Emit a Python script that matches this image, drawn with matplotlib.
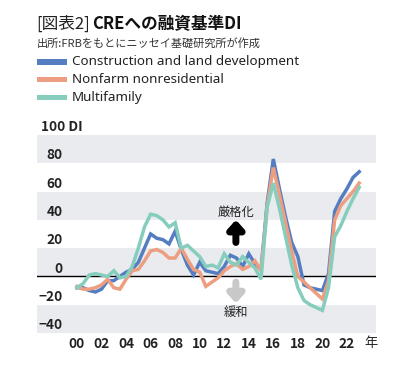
import matplotlib
matplotlib.use("Agg")
import matplotlib.pyplot as plt
import numpy as np
from matplotlib.transforms import blended_transform_factory

plt.rcParams['font.family'] = ['Noto Sans CJK JP', 'DejaVu Sans']

# ---- data (semi-annual, 2000.0 .. 2023.0) ----
years = [2000 + 0.5 * i for i in range(47)]
construction = [-8, -8, -10, -11, -9, -3, -3, 0, 3, 5,
                10, 20, 30, 27, 26, 23, 32, 19, 8, 1,
                10, 4, 3, 2, 7, 15, 13, 7, 16, 9,
                5, 52, 83, 62, 42, 24, 14, -6, -8, -9,
                -10, 2, 46, 55, 62, 70, 74]
nonfarm = [-7, -9, -9, -8, -6, -2, -8, -9, -2, 4,
           5, 11, 18, 19, 17, 13, 13, 20, 12, 5,
           3, -7, -4, -1, 4, 7, 9, 5, 7, 11,
           4, 50, 77, 58, 38, 18, 0, -4, -8, -12,
           -16, -3, 40, 50, 55, 60, 66]
multifamily = [-8, -5, 1, 2, 1, 0, 4, -1, 0, 7,
               20, 35, 44, 43, 40, 35, 38, 20, 22, 18,
               14, 7, 8, 6, 16, 10, 8, 14, 10, 6,
               -2, 49, 66, 48, 28, 8, -8, -17, -20, -22,
               -24, -8, 28, 36, 46, 55, 63]
series_names = ["Construction and land development", "Nonfarm nonresidential", "Multifamily"]
series_colors = ["#547ec1", "#ee9e80", "#86cdbd"]
xtick_years = list(range(2000, 2023, 2))
xtick_labels = ["%02d" % (y % 100) for y in xtick_years]
ytick_vals = [-40, -20, 0, 20, 40, 60, 80]
bands = [(-40, -20), (0, 20), (40, 60), (80, 100)]

W, H = 409, 371
fig = plt.figure(figsize=(W / 100, H / 100), dpi=100)

def fx(px):
    return px / W

def fy(py):
    return 1 - py / H

ax = fig.add_axes([fx(37), fy(333), fx(376) - fx(37), fy(135) - fy(333)])
ax.set_xlim(1996.74, 2024.37)
ax.set_ylim(-40, 100)
for s in ax.spines.values():
    s.set_visible(False)
ax.set_yticks([])
for lo, hi in bands:
    ax.axhspan(lo, hi, color="#e9ebee", lw=0, zorder=0)
ax.axhline(0, color="black", lw=1.0, zorder=1)

for vals, c in zip([construction, nonfarm, multifamily], series_colors):
    ax.plot(years, vals, color=c, lw=2.5, zorder=3, solid_joinstyle='miter')

ax.set_xticks(xtick_years)
ax.set_xticklabels(xtick_labels, fontsize=9.8, fontweight='bold', color='#222222')
ax.tick_params(axis='x', length=0, pad=3)
ax.text(2023.45, -47.3, "年", ha='left', va='center', fontsize=9.5, color='#222222',
        clip_on=False)

tr = blended_transform_factory(ax.transAxes, ax.transData)
for v in ytick_vals:
    ax.text(0.075, v + 0.6, "−%d" % abs(v) if v < 0 else str(v), transform=tr,
            ha='right', va='bottom', fontsize=9.8, fontweight='bold', color='#222222')
ax.text(0.012, 100.6, "100 DI", transform=tr, ha='left', va='bottom',
        fontsize=9.8, fontweight='bold', color='#222222')

# annotations
ax.text(2012.95, 45.5, "厳格化", ha='center', va='center', fontsize=8.8, color='#222222')
ax.annotate("", xy=(2012.95, 40), xytext=(2012.95, 24),
            arrowprops=dict(arrowstyle="-|>,head_width=0.45,head_length=0.5", lw=5,
                            color="black", shrinkA=0, shrinkB=0))
ax.annotate("", xy=(2012.95, -19), xytext=(2012.95, -4),
            arrowprops=dict(arrowstyle="-|>,head_width=0.45,head_length=0.5", lw=5,
                            color="#c8c8c8", shrinkA=0, shrinkB=0))
ax.text(2012.95, -25.5, "緩和", ha='center', va='center', fontsize=8.8, color='#222222')

# title
r = fig.canvas.get_renderer()
t1 = fig.text(fx(36), fy(24), "[図表2]", ha='left', va='center', fontsize=12, color='#222222')
bb = t1.get_window_extent(r)
fig.text(bb.x1 / W + fx(2), fy(24), "CREへの融資基準DI", ha='left', va='center',
         fontsize=12, fontweight='bold', color='#111111')
fig.text(fx(37), fy(43), "出所:FRBをもとにニッセイ基礎研究所が作成", ha='left', va='center',
         fontsize=8, color='#333333')

# legend
for i, (name, c) in enumerate(zip(series_names, series_colors)):
    yc = 62 + i * 17.5
    fig.patches.append(plt.Rectangle((fx(37), fy(yc + 2.5)), fx(30), fy(yc - 2.5) - fy(yc + 2.5),
                                     transform=fig.transFigure, color=c, lw=0))
    fig.text(fx(72), fy(yc), name, ha='left', va='center', fontsize=9.7,
             family=['Noto Sans', 'DejaVu Sans'], color='#222222')

fig.savefig("out.png", dpi=100)
